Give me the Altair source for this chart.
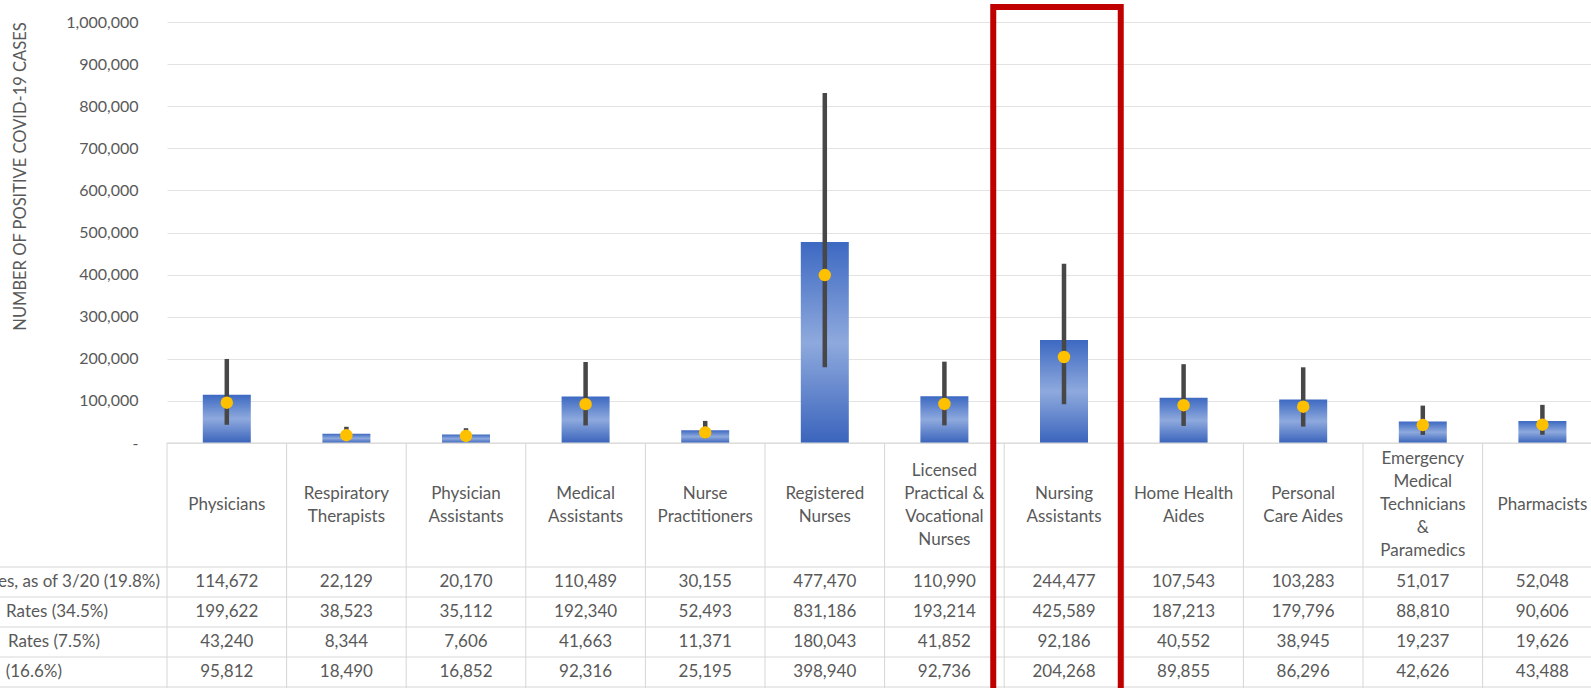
import altair as alt
import pandas as pd

# Occupations (columns of the chart and of the table beneath it)
categories = [
    "Physicians", "Respiratory Therapists", "Physician Assistants",
    "Medical Assistants", "Nurse Practitioners", "Registered Nurses",
    "Licensed Practical & Vocational Nurses", "Nursing Assistants",
    "Home Health Aides", "Personal Care Aides",
    "Emergency Medical Technicians & Paramedics", "Pharmacists",
]
# Header text as it wraps inside each table cell
header_text = [
    "Physicians", "Respiratory\nTherapists", "Physician\nAssistants",
    "Medical\nAssistants", "Nurse\nPractitioners", "Registered\nNurses",
    "Licensed\nPractical &\nVocational\nNurses", "Nursing\nAssistants",
    "Home Health\nAides", "Personal\nCare Aides",
    "Emergency\nMedical\nTechnicians\n&\nParamedics", "Pharmacists",
]

# Table rows: confirmed (bar), high rate (whisker top), low rate (whisker bottom), estimate (dot)
row_labels = ["es, as of 3/20 (19.8%)", "Rates (34.5%)", "Rates (7.5%)", "(16.6%)"]
cases_320 = [114672, 22129, 20170, 110489, 30155, 477470, 110990, 244477, 107543, 103283, 51017, 52048]
high_rate = [199622, 38523, 35112, 192340, 52493, 831186, 193214, 425589, 187213, 179796, 88810, 90606]
low_rate = [43240, 8344, 7606, 41663, 11371, 180043, 41852, 92186, 40552, 38945, 19237, 19626]
estimate = [95812, 18490, 16852, 92316, 25195, 398940, 92736, 204268, 89855, 86296, 42626, 43488]
rows = [cases_320, high_rate, low_rate, estimate]

highlighted = ["Nursing Assistants"]

y_ticks = list(range(0, 1_000_001, 100_000))

df = pd.DataFrame({
    "cat": categories, "header": header_text,
    "cases": cases_320, "high": high_rate, "low": low_rate, "est": estimate,
})
df["nlines"] = df["header"].str.count("\n") + 1
one = pd.DataFrame({"k": [0]})

# ---- layout ----
PAD_L, PAD_T = 165, 22
W, H = 1591 - PAD_L, 421
TABLE_H = 688 - PAD_T - H
HEADER_H = 124
ROW_H = 30
COL_W = 119.6
X0 = 2
LINE_H = 23
GRID = "#e3e3e3"
LINE = "#d6d6d6"
TXT = "#595959"
FONT = "Lato"
FS = 17
LABEL_END = [160, 108, 100, 62]   # right end of each row label, from the left edge

xenc = dict(
    sort=categories,
    scale=alt.Scale(domain=categories, range=[X0, X0 + COL_W * len(categories)],
                    paddingInner=0, paddingOuter=0),
    axis=None,
)

bar_gradient = {
    "gradient": "linear", "x1": 0, "y1": 0, "x2": 0, "y2": 1,
    "stops": [
        {"offset": 0, "color": "#3d69c2"},
        {"offset": 0.5, "color": "#8ea9dd"},
        {"offset": 1, "color": "#3a64bc"},
    ],
}

yaxis = alt.Axis(
    values=y_ticks,
    labelExpr="datum.value === 0 ? '-  ' : format(datum.value, ',')",
    labelFont=FONT, labelFontSize=16, labelColor=TXT, labelPadding=27,
    ticks=False, tickSize=0, domain=False,
    grid=True, gridColor=GRID, gridWidth=1,
    title="NUMBER OF POSITIVE COVID-19 CASES",
    titleFont=FONT, titleFontSize=16.5, titleFontWeight="normal", titleColor=TXT,
    titleAngle=270, titleX=-145, titleY=154, titleAlign="center", titleBaseline="middle",
)
yscale = alt.Scale(domain=[0, 1_000_000], nice=False, zero=True)

bars = alt.Chart(df).mark_bar(size=48, color=bar_gradient).encode(
    x=alt.X("cat:N", **xenc),
    y=alt.Y("cases:Q", scale=yscale, axis=yaxis),
)
whiskers = alt.Chart(df).mark_rule(color="#474747", strokeWidth=4.5).encode(
    x=alt.X("cat:N", **xenc),
    y=alt.Y("low:Q", scale=yscale),
    y2="high:Q",
)
dots = alt.Chart(df).mark_circle(size=155, color="#FFC000", opacity=1).encode(
    x=alt.X("cat:N", **xenc),
    y=alt.Y("est:Q", scale=yscale),
)

layers = [bars, whiskers, dots]


def hline(y, x_start):
    return alt.Chart(one).mark_rule(color=LINE, strokeWidth=1).encode(
        x=alt.value(x_start), x2=alt.value(W), y=alt.value(y)
    )


# table grid
layers.append(hline(H, X0))
for i in range(5):
    layers.append(hline(H + HEADER_H + i * ROW_H, -PAD_L))
layers.append(
    alt.Chart(df).mark_rule(color=LINE, strokeWidth=1).encode(
        x=alt.X("cat:N", bandPosition=0, **xenc),
        y=alt.value(H), y2=alt.value(H + TABLE_H + 5),
    )
)

# header cells, each text block centred vertically in the header row
for n in sorted(df["nlines"].unique()):
    layers.append(
        alt.Chart(df[df["nlines"] == n]).mark_text(
            font=FONT, fontSize=FS, color=TXT, lineBreak="\n", lineHeight=LINE_H,
            baseline="middle", align="center", dy=-(int(n) - 1) * LINE_H / 2,
        ).encode(
            x=alt.X("cat:N", **xenc), y=alt.value(H + HEADER_H / 2), text="header:N",
        )
    )

# value rows
for i, (lab, vals) in enumerate(zip(row_labels, rows)):
    yc = H + HEADER_H + i * ROW_H + ROW_H / 2
    rdf = pd.DataFrame({"cat": categories, "v": vals})
    layers.append(
        alt.Chart(rdf).mark_text(font=FONT, fontSize=FS, color=TXT,
                                 baseline="middle", align="center").encode(
            x=alt.X("cat:N", **xenc), y=alt.value(yc),
            text=alt.Text("v:Q", format=","),
        )
    )
    layers.append(
        alt.Chart(pd.DataFrame({"t": [lab]})).mark_text(
            font=FONT, fontSize=FS, color=TXT, baseline="middle", align="right"
        ).encode(x=alt.value(LABEL_END[i] - PAD_L), y=alt.value(yc), text="t:N")
    )

# highlight frame around one column
layers.append(
    alt.Chart(pd.DataFrame({"cat": highlighted})).mark_bar(
        width={"band": 1.066}, xOffset=-7, fillOpacity=0,
        stroke="#C00000", strokeWidth=6, color="#C00000",
    ).encode(
        x=alt.X("cat:N", **xenc),
        y=alt.value(-15), y2=alt.value(H + TABLE_H + 20),
    )
)

chart = alt.layer(*layers).properties(
    width=W, height=H,
    padding={"left": PAD_L, "top": PAD_T, "right": 0, "bottom": 688 - PAD_T - H},
    autosize=alt.AutoSizeParams(type="none"),
    background="white",
).configure_view(stroke=None)

chart.save("out.html", embed_options={"renderer": "svg", "actions": False})
